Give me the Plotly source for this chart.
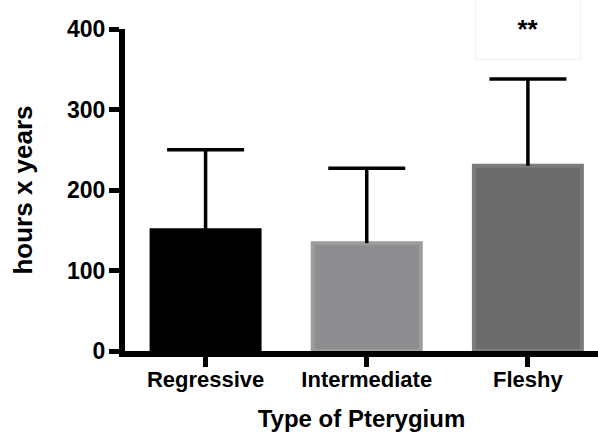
import plotly.graph_objects as go

# Exposure (hours x years) by pterygium type: mean and SD
categories = ["Regressive", "Intermediate", "Fleshy"]
means = [150, 134, 230]
sds = [100, 93, 108]
fill_colors = ["#000000", "#8d8d8f", "#6b6b6b"]
edge_colors = ["#000000", "#9c9c9e", "#7c7c7c"]
y_ticks = [0, 100, 200, 300, 400]
significance = "**"

FONT = "Liberation Sans, Arial, Helvetica, sans-serif"

upper = [m + s for m, s in zip(means, sds)]

fig = go.Figure()

# bars with upward-only error stems (caps drawn separately, top only)
fig.add_trace(
    go.Bar(
        x=categories,
        y=means,
        width=0.67,
        marker=dict(color=fill_colors, line=dict(color=edge_colors, width=4)),
        error_y=dict(
            type="data",
            symmetric=False,
            array=sds,
            arrayminus=[0] * len(sds),
            color="black",
            thickness=3.5,
            width=0,
        ),
        showlegend=False,
        hoverinfo="x+y",
    )
)

# top caps of the SD whiskers
fig.add_trace(
    go.Scatter(
        x=categories,
        y=upper,
        mode="markers",
        marker=dict(
            symbol="line-ew",
            size=55,
            line=dict(color="black", width=3.5),
        ),
        showlegend=False,
        hoverinfo="skip",
        cliponaxis=False,
    )
)

fig.add_annotation(
    x=categories[2],
    y=397,
    xref="x",
    yref="y",
    text=significance,
    showarrow=False,
    font=dict(family=FONT, size=26, color="black", weight="bold"),
    width=104,
    height=60,
    valign="middle",
    yshift=2,
    bordercolor="#efefef",
    borderwidth=1,
    borderpad=0,
    yanchor="middle",
)

fig.update_layout(
    width=598,
    height=434,
    margin=dict(l=125, r=0, t=29, b=83),
    paper_bgcolor="white",
    plot_bgcolor="white",
    font=dict(family=FONT, color="black"),
)

fig.update_xaxes(
    range=[-0.5, 2.435],
    showgrid=False,
    zeroline=False,
    showline=True,
    linecolor="black",
    linewidth=6,
    ticks="outside",
    ticklen=10,
    tickwidth=5,
    tickcolor="black",
    ticklabelstandoff=-6,
    tickfont=dict(family=FONT, size=22, color="black", weight="bold"),
    title=dict(
        text="Type of Pterygium",
        font=dict(family=FONT, size=24, color="black", weight="bold"),
        standoff=21,
    ),
)

fig.update_yaxes(
    range=[0, 400],
    tickvals=y_ticks,
    showgrid=False,
    zeroline=False,
    showline=True,
    linecolor="black",
    linewidth=6,
    ticks="outside",
    ticklen=10,
    tickwidth=5,
    tickcolor="black",
    ticklabelstandoff=-1,
    tickfont=dict(family=FONT, size=23, color="black", weight="bold"),
    title=dict(
        text="hours x years",
        font=dict(family=FONT, size=26, color="black", weight="bold"),
        standoff=29,
    ),
)

fig.write_html("out.html")
